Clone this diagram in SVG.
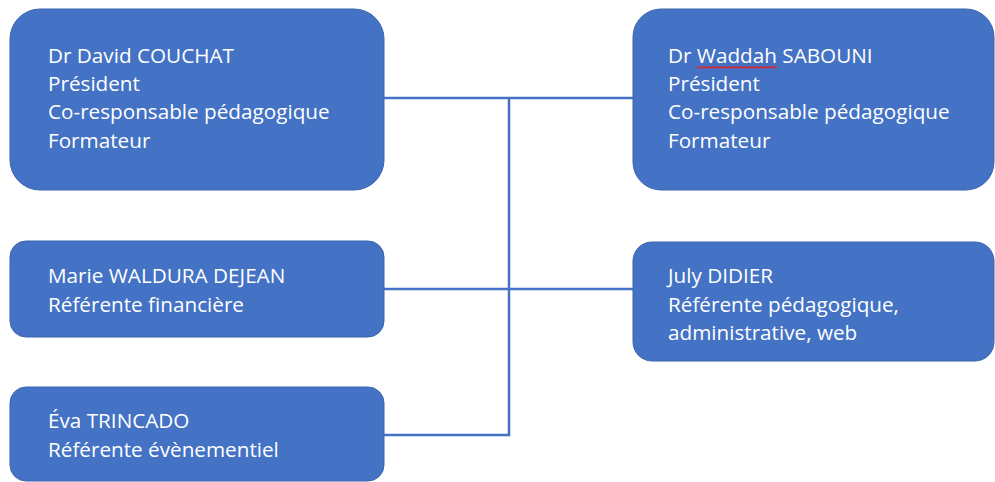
<svg xmlns="http://www.w3.org/2000/svg" width="995" height="482" viewBox="0 0 995 482">
<style>
.box{fill:#4472C4;stroke:#3A64B0;stroke-width:1}
.t{font-family:"Open Sans","Noto Sans",sans-serif;font-size:20.7px;fill:#FFFFFF}
.link{fill:none;stroke:#4472C4;stroke-width:2.5}
</style>
<rect width="995" height="482" fill="#FFFFFF"/>
<g id="connectors">
<path class="link" d="M384 98H633"/>
<path class="link" d="M509 98V435H384"/>
<path class="link" d="M384 289H633"/>
</g>
<g id="node-couchat">
<rect class="box" x="10" y="9" width="374" height="181" rx="30"/>
<text class="t" x="48" y="63">Dr David COUCHAT</text>
<text class="t" x="48" y="91">Président</text>
<text class="t" x="48" y="119">Co-responsable pédagogique</text>
<text class="t" x="48" y="148">Formateur</text>
</g>
<g id="node-sabouni">
<rect class="box" x="633" y="9" width="361" height="181" rx="28"/>
<text class="t" x="668" y="63">Dr Waddah SABOUNI</text>
<path d="M697 66.5l2 1.6l2-1.6l2 1.6l2-1.6l2 1.6l2-1.6l2 1.6l2-1.6l2 1.6l2-1.6l2 1.6l2-1.6l2 1.6l2-1.6l2 1.6l2-1.6l2 1.6l2-1.6l2 1.6l2-1.6l2 1.6l2-1.6l2 1.6l2-1.6l2 1.6l2-1.6l2 1.6l2-1.6l2 1.6l2-1.6l2 1.6l2-1.6l2 1.6l2-1.6l2 1.6l2-1.6l2 1.6l2-1.6l2 1.6l2-1.6" fill="none" stroke="#E0262A" stroke-width="1.3"/>
<text class="t" x="668" y="91">Président</text>
<text class="t" x="668" y="119">Co-responsable pédagogique</text>
<text class="t" x="668" y="148">Formateur</text>
</g>
<g id="node-waldura">
<rect class="box" x="10" y="241" width="374" height="96" rx="16"/>
<text class="t" x="48" y="283">Marie WALDURA DEJEAN</text>
<text class="t" x="48" y="312">Référente financière</text>
</g>
<g id="node-didier">
<rect class="box" x="633" y="242" width="361" height="119" rx="19"/>
<text class="t" x="668" y="283">July DIDIER</text>
<text class="t" x="668" y="312">Référente pédagogique,</text>
<text class="t" x="668" y="340">administrative, web</text>
</g>
<g id="node-trincado">
<rect class="box" x="10" y="387" width="374" height="94" rx="16"/>
<text class="t" x="48" y="428">Éva TRINCADO</text>
<text class="t" x="48" y="457">Référente évènementiel</text>
</g>
</svg>
